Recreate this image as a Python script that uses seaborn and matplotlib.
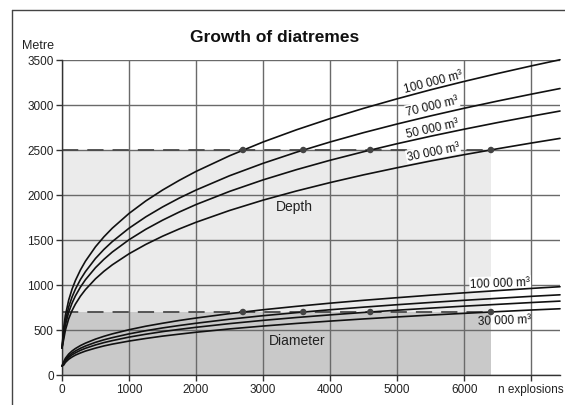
import matplotlib
matplotlib.use("Agg")
import matplotlib.pyplot as plt
from matplotlib.lines import Line2D
import seaborn as sns
import pandas as pd

# number of explosions at which each curve is sampled
n_explosions = [0, 25, 50, 100, 150, 200, 275, 350, 500, 625, 750, 1000,
                1250, 1500, 1750, 2000, 2500, 3000, 3500, 4000, 4500, 5000,
                5500, 6000, 6500, 7000, 7430]

volume_labels = ["100 000 m³", "70 000 m³", "50 000 m³", "30 000 m³"]

# depth of the diatreme (m) for each explosion volume
depth_100k = [300, 525, 661, 833, 954, 1050, 1167, 1265, 1425, 1535, 1631,
              1795, 1934, 2055, 2163, 2262, 2436, 2589, 2725, 2849, 2963,
              3069, 3169, 3262, 3350, 3434, 3503]
depth_70k = [300, 477, 601, 757, 867, 954, 1061, 1149, 1295, 1395, 1482,
             1631, 1757, 1867, 1966, 2055, 2214, 2352, 2476, 2589, 2693,
             2789, 2879, 2964, 3044, 3120, 3183]
depth_50k = [300, 439, 554, 698, 799, 879, 977, 1059, 1193, 1285, 1366,
             1503, 1619, 1720, 1811, 1894, 2040, 2168, 2282, 2386, 2481,
             2570, 2653, 2731, 2805, 2875, 2933]
depth_30k = [300, 394, 496, 625, 716, 788, 876, 949, 1069, 1152, 1224,
             1347, 1451, 1542, 1623, 1697, 1828, 1943, 2045, 2138, 2224,
             2303, 2378, 2448, 2514, 2577, 2629]

# diameter of the diatreme (m) for each explosion volume
diam_100k = [100, 147, 185, 233, 267, 294, 327, 354, 399, 430, 457, 503,
             542, 575, 606, 633, 682, 725, 763, 798, 830, 859, 887, 913,
             938, 962, 981]
diam_70k = [100, 134, 168, 212, 243, 267, 297, 322, 363, 391, 415, 457,
            492, 523, 550, 575, 620, 659, 693, 725, 754, 781, 806, 830,
            852, 874, 891]
diam_50k = [100, 123, 155, 195, 224, 246, 274, 297, 334, 360, 382, 421,
            453, 482, 507, 530, 571, 607, 639, 668, 695, 720, 743, 765,
            785, 805, 821]
diam_30k = [100, 110, 139, 175, 200, 221, 245, 266, 299, 323, 343, 377,
            406, 432, 454, 475, 512, 544, 573, 599, 623, 645, 666, 685,
            704, 722, 736]

# explosions needed to reach the reference depth / diameter
limit_depth = 2500
limit_diam = 700
limit_n = [2700, 3600, 4600, 6400]

x_ticks = [0, 1000, 2000, 3000, 4000, 5000, 6000, 7000]
x_ticklabels = ["0", "1000", "2000", "3000", "4000", "5000", "6000", ""]
y_ticks = [0, 500, 1000, 1500, 2000, 2500, 3000, 3500]

rows = []
for lab, d, m in zip(volume_labels,
                     [depth_100k, depth_70k, depth_50k, depth_30k],
                     [diam_100k, diam_70k, diam_50k, diam_30k]):
    for n, dv, mv in zip(n_explosions, d, m):
        rows.append({"n": n, "value": dv, "curve": "depth " + lab})
        rows.append({"n": n, "value": mv, "curve": "diam " + lab})
df = pd.DataFrame(rows)

sns.set_theme(style="white")
plt.rcParams["font.family"] = ["Liberation Sans", "DejaVu Sans"]

W, H = 565, 406
fig = plt.figure(figsize=(W / 100, H / 100), dpi=100)
ax = fig.add_axes([62 / W, 30 / H, 498 / W, 315 / H])

# shaded domains
ax.fill_between([0, limit_n[-1]], 0, limit_depth, color="#ebebeb", lw=0, zorder=0.1)
ax.fill_between([0, limit_n[-1]], 0, limit_diam, color="#c9c9c9", lw=0, zorder=0.2)

ax.set_xlim(0, 7430)
ax.set_ylim(0, 3500)
ax.set_xticks(x_ticks)
ax.set_xticklabels(x_ticklabels)
ax.set_yticks(y_ticks)
ax.grid(True, color="#6a6a6a", lw=1.0)
ax.set_axisbelow(True)

for c in df["curve"].unique():
    sub = df[df["curve"] == c]
    sns.lineplot(data=sub, x="n", y="value", ax=ax, color="#111111", lw=1.2,
                 estimator=None, sort=False, zorder=3, clip_on=False,
                 solid_joinstyle="round")

# reference levels
for lvl in (limit_depth, limit_diam):
    ax.plot([0, limit_n[-1]], [lvl, lvl], color="#4a4a4a", lw=1.3,
            dashes=(9, 5), zorder=1.5)
    sns.scatterplot(x=limit_n, y=[lvl] * len(limit_n), ax=ax, color="#444444",
                    s=22, edgecolor="none", zorder=4)

ax.set_xlabel("")
ax.set_ylabel("")

for s in ("top", "right"):
    ax.spines[s].set_visible(False)
for s in ("left", "bottom"):
    ax.spines[s].set_color("#333333")
    ax.spines[s].set_linewidth(1.0)
ax.tick_params(axis="both", direction="out", length=4, width=1,
               color="#333333", labelsize=8.5, labelcolor="#222222", pad=2,
               left=True, bottom=True)

box = dict(facecolor="white", edgecolor="none", pad=0.6)
depth_label_pos = [(5537, 3256, 14.5), (5522, 2989, 13.5),
                   (5522, 2744, 12.5), (5537, 2478, 11.5)]
for lab, (x, y, rot) in zip(volume_labels, depth_label_pos):
    ax.text(x, y, lab, fontsize=8.5, rotation=rot, ha="center", va="center",
            rotation_mode="anchor", bbox=box, zorder=2, color="#111111")

ax.text(6537, 1022, volume_labels[0], fontsize=8.5, rotation=2, ha="center",
        va="center", rotation_mode="anchor", bbox=box, zorder=2, color="#111111")
ax.text(6597, 611, volume_labels[3], fontsize=8.5, rotation=2, ha="center",
        va="center", rotation_mode="anchor", zorder=2, color="#111111")

ax.text(3463, 1878, "Depth", fontsize=10, ha="center", va="center", color="#222222")
ax.text(3507, 385, "Diameter", fontsize=10, ha="center", va="center", color="#222222")

fig.text(275 / W, 1 - 37 / H, "Growth of diatremes", fontsize=12.5,
         fontweight="bold", ha="center", va="center", color="#111111")
fig.text(38 / W, 1 - 46 / H, "Metre", fontsize=9, ha="center", va="center",
         color="#222222")
fig.text(498 / W, 1 - 390 / H, "n explosions", fontsize=8.5, ha="left",
         va="center", color="#222222")

# outer frame
fig.add_artist(Line2D([12 / W, 1], [1 - 11 / H, 1 - 11 / H],
                      transform=fig.transFigure, color="#444444", lw=1))
fig.add_artist(Line2D([12 / W, 12 / W], [0, 1 - 11 / H],
                      transform=fig.transFigure, color="#444444", lw=1))

fig.savefig("out.png", dpi=100)
